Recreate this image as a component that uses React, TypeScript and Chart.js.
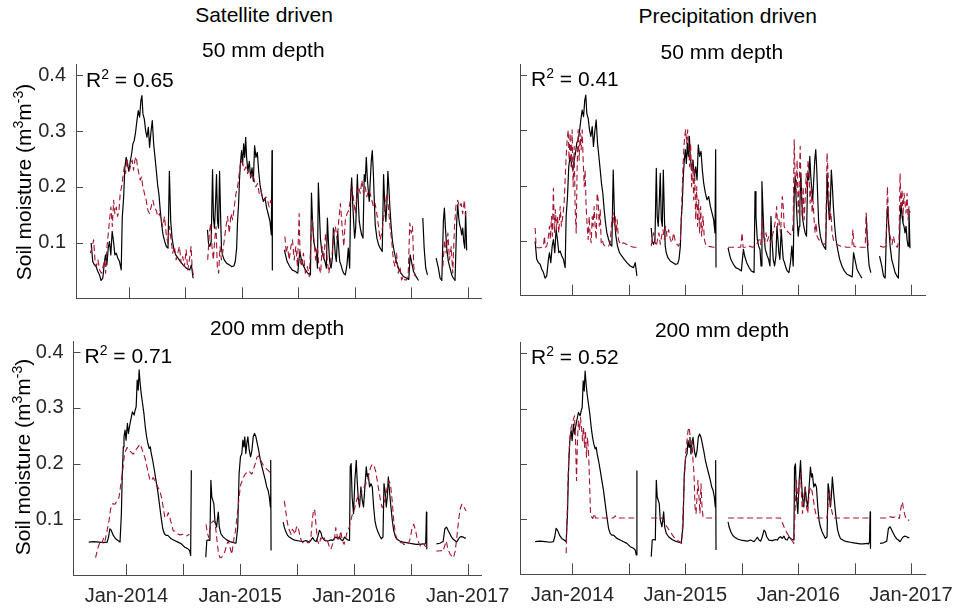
import React, { useEffect, useRef } from "react";
import { Chart, registerables } from "chart.js";

Chart.register(...registerables);

type Pt = [number, number | null];

// ---------- axes ----------
const X_MIN = 2013.535;
const X_MAX = 2017.124;
const Y_MIN = 0;
const Y_MAX = 0.42;
const X_TICKS = [2014, 2014.5, 2015, 2015.5, 2016, 2016.5, 2017];
const X_TICK_LABELS = ["Jan-2014", "", "Jan-2015", "", "Jan-2016", "", "Jan-2017"];
const Y_TICKS = [0.1, 0.2, 0.3, 0.4];
const Y_TICK_LABELS = ["0.1", "0.2", "0.3", "0.4"];

const COLUMN_TITLES = ["Satellite driven", "Precipitation driven"];
const DEPTH_TITLES = ["50 mm depth", "200 mm depth"];
const R2_VALUES = ["0.65", "0.41", "0.71", "0.52"];

// ---------- observed soil moisture, 50 mm (black) ----------
const OBS_50: Pt[] = [
  [2013.669,0.099],[2013.683,0.066],[2013.698,0.060],[2013.713,0.057],[2013.728,0.048],[2013.743,0.042],[2013.757,0.032],[2013.772,0.036],[2013.787,0.066],[2013.796,0.078],[2013.808,0.060],[2013.820,0.090],[2013.831,0.102],[2013.843,0.078],[2013.855,0.120],[2013.867,0.102],[2013.879,0.078],[2013.891,0.081],[2013.905,0.072],[2013.920,0.066],[2013.935,0.051],[2013.944,0.144],[2013.956,0.180],[2013.967,0.234],[2013.979,0.253],[2013.991,0.240],[2014.003,0.228],[2014.015,0.246],[2014.027,0.259],[2014.038,0.277],[2014.050,0.283],[2014.062,0.298],[2014.074,0.319],[2014.086,0.337],[2014.098,0.325],[2014.109,0.355],[2014.118,0.364],[2014.127,0.331],[2014.139,0.322],[2014.151,0.301],[2014.163,0.289],[2014.175,0.307],[2014.186,0.271],[2014.198,0.298],[2014.210,0.319],[2014.222,0.277],[2014.234,0.253],[2014.246,0.228],[2014.257,0.204],[2014.269,0.186],[2014.281,0.156],[2014.293,0.132],[2014.305,0.114],[2014.320,0.102],[2014.334,0.093],[2014.349,0.090],[2014.361,0.228],[2014.373,0.138],[2014.385,0.108],[2014.399,0.090],[2014.417,0.078],[2014.438,0.072],[2014.459,0.066],[2014.482,0.060],[2014.512,0.054],[2014.541,0.051],[2014.556,0.060],[2014.571,0.036],
  [2014.63,null],
  [2014.698,0.123],[2014.707,0.099],[2014.719,0.093],[2014.731,0.102],[2014.743,0.231],[2014.751,0.144],[2014.760,0.126],[2014.769,0.168],[2014.778,0.222],[2014.787,0.138],[2014.796,0.126],[2014.805,0.228],[2014.814,0.150],[2014.822,0.090],[2014.831,0.078],[2014.846,0.069],[2014.867,0.063],[2014.891,0.060],[2014.911,0.057],[2014.932,0.058],[2014.944,0.066],[2014.956,0.090],[2014.964,0.138],[2014.973,0.168],[2014.982,0.216],[2014.991,0.246],[2015.000,0.265],[2015.009,0.240],[2015.018,0.277],[2015.027,0.253],[2015.036,0.289],[2015.044,0.253],[2015.056,0.228],[2015.068,0.246],[2015.080,0.216],[2015.092,0.234],[2015.104,0.210],[2015.115,0.274],[2015.127,0.253],[2015.139,0.262],[2015.151,0.228],[2015.163,0.204],[2015.178,0.186],[2015.192,0.174],[2015.207,0.180],[2015.222,0.162],[2015.237,0.150],[2015.251,0.138],[2015.263,0.114],[2015.269,0.265],[2015.272,0.051],
  [2015.33,null],
  [2015.379,0.087],[2015.388,0.078],[2015.403,0.066],[2015.426,0.057],[2015.447,0.051],[2015.476,0.048],[2015.497,0.045],[2015.506,0.066],[2015.515,0.084],[2015.526,0.072],[2015.544,0.060],[2015.565,0.051],[2015.585,0.045],[2015.609,0.042],[2015.618,0.189],[2015.626,0.144],[2015.638,0.102],[2015.650,0.090],[2015.662,0.084],[2015.671,0.054],[2015.679,0.207],[2015.688,0.156],[2015.697,0.108],[2015.709,0.084],[2015.718,0.078],[2015.726,0.072],[2015.738,0.066],[2015.750,0.054],[2015.759,0.144],[2015.768,0.102],[2015.779,0.066],[2015.791,0.054],[2015.803,0.072],[2015.812,0.126],[2015.821,0.102],[2015.829,0.078],[2015.838,0.066],[2015.850,0.120],[2015.859,0.090],[2015.868,0.066],[2015.879,0.060],[2015.891,0.051],[2015.903,0.045],[2015.918,0.042],[2015.932,0.060],[2015.944,0.090],[2015.956,0.054],[2015.965,0.186],[2015.974,0.216],[2015.982,0.174],[2015.991,0.138],[2016.000,0.108],[2016.009,0.126],[2016.015,0.162],[2016.024,0.222],[2016.032,0.174],[2016.041,0.138],[2016.050,0.126],[2016.062,0.114],[2016.074,0.108],[2016.085,0.222],[2016.094,0.210],[2016.103,0.253],[2016.112,0.216],[2016.121,0.192],[2016.129,0.174],[2016.138,0.210],[2016.147,0.246],[2016.156,0.265],[2016.165,0.228],[2016.174,0.174],[2016.182,0.132],[2016.197,0.108],[2016.212,0.096],[2016.226,0.090],[2016.244,0.084],[2016.256,0.222],[2016.265,0.174],[2016.276,0.138],[2016.285,0.168],[2016.294,0.228],[2016.303,0.198],[2016.312,0.162],[2016.324,0.126],[2016.335,0.102],[2016.350,0.084],[2016.368,0.066],[2016.388,0.054],[2016.409,0.045],[2016.432,0.039],[2016.462,0.036],[2016.479,0.034],[2016.491,0.078],[2016.503,0.066],[2016.521,0.048],[2016.544,0.039],[2016.565,0.032],
  [2016.585,null],
  [2016.603,0.144],[2016.615,0.090],[2016.629,0.054],[2016.644,0.042],
  [2016.68,null],
  [2016.721,0.072],[2016.741,0.054],[2016.756,0.036],[2016.771,0.032],[2016.785,0.138],[2016.794,0.162],[2016.803,0.126],[2016.815,0.090],[2016.829,0.066],[2016.844,0.054],[2016.859,0.042],[2016.874,0.036],[2016.888,0.032],[2016.903,0.138],[2016.912,0.168],[2016.921,0.144],[2016.929,0.132],[2016.938,0.126],[2016.947,0.114],[2016.956,0.126],[2016.965,0.102],[2016.974,0.090],[2016.982,0.156],[2016.991,0.086],
];

// ---------- satellite-driven model, 50 mm (red dashed) ----------
const SAT_50: Pt[] = [
  [2013.662,0.081],[2013.679,0.093],[2013.691,0.105],[2013.703,0.069],[2013.715,0.057],[2013.729,0.069],[2013.744,0.051],[2013.759,0.045],[2013.774,0.057],[2013.788,0.069],[2013.797,0.045],[2013.809,0.093],[2013.821,0.117],[2013.832,0.141],[2013.844,0.164],[2013.856,0.129],[2013.868,0.176],[2013.879,0.152],[2013.891,0.164],[2013.903,0.147],[2013.915,0.158],[2013.926,0.188],[2013.938,0.200],[2013.950,0.218],[2013.962,0.236],[2013.974,0.224],[2013.985,0.251],[2013.997,0.236],[2014.009,0.230],[2014.021,0.242],[2014.032,0.248],[2014.044,0.230],[2014.056,0.248],[2014.068,0.254],[2014.079,0.236],[2014.091,0.224],[2014.103,0.212],[2014.115,0.218],[2014.126,0.200],[2014.141,0.188],[2014.156,0.176],[2014.171,0.158],[2014.185,0.152],[2014.200,0.164],[2014.215,0.176],[2014.229,0.164],[2014.244,0.158],[2014.259,0.147],[2014.274,0.152],[2014.288,0.141],[2014.303,0.129],[2014.318,0.147],[2014.332,0.117],[2014.347,0.099],[2014.362,0.129],[2014.376,0.105],[2014.391,0.081],[2014.406,0.093],[2014.421,0.069],[2014.435,0.081],[2014.450,0.093],[2014.465,0.063],[2014.479,0.075],[2014.494,0.057],[2014.509,0.087],[2014.524,0.051],[2014.538,0.069],[2014.553,0.093],[2014.562,0.057],[2014.574,0.039],
  [2014.63,null],
  [2014.700,0.069],[2014.715,0.117],[2014.726,0.135],[2014.738,0.093],[2014.750,0.069],[2014.762,0.105],[2014.774,0.129],[2014.785,0.057],[2014.797,0.045],[2014.809,0.093],[2014.821,0.069],[2014.832,0.081],[2014.847,0.105],[2014.862,0.129],[2014.876,0.147],[2014.891,0.117],[2014.906,0.152],[2014.921,0.141],[2014.935,0.164],[2014.950,0.188],[2014.965,0.200],[2014.979,0.224],[2014.994,0.248],[2015.009,0.242],[2015.024,0.230],[2015.038,0.236],[2015.053,0.224],[2015.068,0.230],[2015.082,0.218],[2015.097,0.224],[2015.112,0.212],[2015.126,0.200],[2015.141,0.206],[2015.156,0.188],[2015.171,0.194],[2015.185,0.182],[2015.200,0.176],[2015.215,0.182],[2015.229,0.176],[2015.244,0.164],[2015.259,0.176],[2015.268,0.164],
  [2015.33,null],
  [2015.383,0.111],[2015.395,0.081],[2015.406,0.093],[2015.421,0.069],[2015.436,0.093],[2015.450,0.105],[2015.465,0.069],[2015.480,0.093],[2015.494,0.057],[2015.509,0.152],[2015.518,0.069],[2015.529,0.057],[2015.547,0.081],[2015.564,0.045],[2015.582,0.057],[2015.599,0.039],[2015.611,0.093],[2015.626,0.141],[2015.640,0.105],[2015.655,0.069],[2015.670,0.093],[2015.684,0.057],[2015.699,0.045],[2015.713,0.093],[2015.728,0.069],[2015.743,0.117],[2015.757,0.069],[2015.772,0.045],[2015.787,0.069],[2015.801,0.081],[2015.816,0.117],[2015.830,0.129],[2015.845,0.105],[2015.860,0.141],[2015.874,0.170],[2015.889,0.129],[2015.904,0.093],[2015.918,0.141],[2015.933,0.152],[2015.947,0.158],[2015.962,0.176],[2015.977,0.200],[2015.991,0.176],[2016.006,0.152],[2016.020,0.188],[2016.035,0.200],[2016.050,0.188],[2016.064,0.212],[2016.079,0.188],[2016.094,0.200],[2016.108,0.182],[2016.123,0.194],[2016.137,0.188],[2016.152,0.176],[2016.167,0.164],[2016.181,0.170],[2016.196,0.152],[2016.211,0.129],[2016.225,0.105],[2016.240,0.117],[2016.254,0.141],[2016.269,0.164],[2016.284,0.188],[2016.298,0.164],[2016.313,0.129],[2016.327,0.105],[2016.342,0.069],[2016.357,0.057],[2016.371,0.081],[2016.386,0.045],[2016.401,0.057],[2016.415,0.033],[2016.430,0.039],[2016.444,0.033],[2016.459,0.033],[2016.474,0.045],[2016.488,0.135],[2016.500,0.117],[2016.512,0.129],[2016.523,0.057],[2016.535,0.039],
  [2016.66,null],
  [2016.781,0.057],[2016.795,0.105],[2016.810,0.081],[2016.825,0.117],[2016.839,0.069],[2016.854,0.093],[2016.868,0.045],[2016.883,0.129],[2016.898,0.170],[2016.912,0.176],[2016.927,0.164],[2016.942,0.170],[2016.956,0.152],[2016.971,0.176],[2016.980,0.147],
];

// ---------- precipitation-driven model, 50 mm (red dashed) ----------
const PRE_50: Pt[] = [
  [2013.669,0.123],[2013.678,0.090],[2013.689,0.087],[2013.713,0.087],[2013.728,0.088],[2013.743,0.090],[2013.751,0.108],[2013.760,0.088],[2013.772,0.090],[2013.784,0.102],[2013.796,0.126],[2013.805,0.102],[2013.814,0.144],[2013.822,0.108],[2013.831,0.195],[2013.840,0.114],[2013.849,0.156],[2013.858,0.120],[2013.867,0.144],[2013.879,0.114],[2013.891,0.162],[2013.902,0.126],[2013.914,0.144],[2013.926,0.168],[2013.935,0.210],[2013.944,0.253],[2013.953,0.283],[2013.962,0.301],[2013.970,0.246],[2013.979,0.295],[2013.988,0.234],[2013.997,0.301],[2014.006,0.198],[2014.015,0.271],[2014.024,0.156],[2014.033,0.114],[2014.041,0.228],[2014.050,0.301],[2014.059,0.246],[2014.068,0.295],[2014.077,0.265],[2014.086,0.301],[2014.095,0.246],[2014.104,0.198],[2014.112,0.228],[2014.121,0.162],[2014.130,0.126],[2014.139,0.102],[2014.148,0.144],[2014.157,0.108],[2014.166,0.096],[2014.175,0.144],[2014.183,0.126],[2014.192,0.162],[2014.201,0.126],[2014.210,0.102],[2014.219,0.186],[2014.228,0.174],[2014.237,0.126],[2014.246,0.156],[2014.254,0.096],[2014.263,0.102],[2014.275,0.093],[2014.290,0.090],[2014.305,0.091],[2014.320,0.090],[2014.334,0.096],[2014.349,0.138],[2014.361,0.150],[2014.370,0.126],[2014.379,0.144],[2014.388,0.114],[2014.396,0.138],[2014.408,0.102],[2014.423,0.093],[2014.453,0.096],[2014.482,0.093],[2014.512,0.090],[2014.541,0.088],[2014.571,0.088],
  [2014.63,null],
  [2014.698,0.090],[2014.707,0.102],[2014.719,0.114],[2014.731,0.099],[2014.743,0.090],[2014.754,0.102],[2014.766,0.114],[2014.778,0.093],[2014.790,0.108],[2014.802,0.120],[2014.814,0.102],[2014.825,0.126],[2014.837,0.108],[2014.852,0.120],[2014.867,0.102],[2014.882,0.096],[2014.896,0.114],[2014.911,0.099],[2014.926,0.093],[2014.941,0.090],[2014.956,0.102],[2014.967,0.156],[2014.976,0.216],[2014.985,0.259],[2014.994,0.289],[2015.003,0.301],[2015.012,0.277],[2015.021,0.301],[2015.030,0.271],[2015.038,0.234],[2015.047,0.277],[2015.056,0.198],[2015.065,0.246],[2015.074,0.174],[2015.083,0.228],[2015.092,0.138],[2015.101,0.198],[2015.109,0.126],[2015.118,0.174],[2015.127,0.114],[2015.136,0.162],[2015.145,0.108],[2015.157,0.144],[2015.169,0.102],[2015.180,0.093],[2015.192,0.090],[2015.222,0.089],[2015.251,0.088],[2015.275,0.088],
  [2015.33,null],
  [2015.379,0.088],[2015.432,0.088],[2015.491,0.088],[2015.503,0.114],[2015.512,0.088],[2015.535,0.088],[2015.565,0.090],[2015.594,0.088],[2015.624,0.090],[2015.653,0.102],[2015.668,0.093],[2015.682,0.138],[2015.691,0.102],[2015.703,0.096],[2015.715,0.114],[2015.726,0.099],[2015.741,0.108],[2015.756,0.096],[2015.771,0.108],[2015.785,0.120],[2015.800,0.138],[2015.809,0.162],[2015.818,0.126],[2015.829,0.138],[2015.844,0.114],[2015.859,0.180],[2015.868,0.162],[2015.876,0.126],[2015.888,0.120],[2015.903,0.117],[2015.918,0.114],[2015.932,0.111],[2015.947,0.114],[2015.956,0.132],[2015.965,0.283],[2015.974,0.210],[2015.982,0.186],[2015.991,0.246],[2016.000,0.150],[2016.009,0.198],[2016.018,0.271],[2016.026,0.186],[2016.035,0.144],[2016.044,0.198],[2016.053,0.138],[2016.062,0.174],[2016.071,0.222],[2016.079,0.186],[2016.088,0.246],[2016.097,0.216],[2016.106,0.168],[2016.115,0.198],[2016.124,0.150],[2016.132,0.174],[2016.141,0.138],[2016.150,0.114],[2016.159,0.132],[2016.168,0.108],[2016.182,0.102],[2016.197,0.099],[2016.212,0.096],[2016.226,0.093],[2016.244,0.096],[2016.256,0.259],[2016.265,0.222],[2016.274,0.174],[2016.282,0.138],[2016.291,0.150],[2016.300,0.114],[2016.315,0.099],[2016.344,0.093],[2016.374,0.090],[2016.432,0.088],[2016.476,0.088],[2016.485,0.120],[2016.494,0.090],[2016.521,0.088],[2016.565,0.088],[2016.594,0.088],[2016.603,0.150],[2016.612,0.114],[2016.621,0.090],[2016.638,0.088],
  [2016.68,null],
  [2016.726,0.090],[2016.756,0.088],[2016.779,0.090],[2016.791,0.198],[2016.800,0.144],[2016.809,0.114],[2016.821,0.102],[2016.832,0.093],[2016.844,0.108],[2016.856,0.096],[2016.868,0.090],[2016.879,0.088],[2016.894,0.102],[2016.903,0.222],[2016.912,0.156],[2016.921,0.192],[2016.929,0.144],[2016.938,0.186],[2016.947,0.168],[2016.956,0.150],[2016.965,0.186],[2016.974,0.138],[2016.982,0.162],[2016.991,0.150],
];

// ---------- observed soil moisture, 200 mm (black) ----------
const OBS_200: Pt[] = [
  [2013.669,0.059],[2013.713,0.060],[2013.757,0.059],[2013.802,0.058],[2013.831,0.059],[2013.843,0.068],[2013.855,0.083],[2013.867,0.080],[2013.885,0.071],[2013.905,0.065],[2013.926,0.062],[2013.944,0.059],[2013.956,0.110],[2013.964,0.182],[2013.973,0.230],[2013.979,0.248],[2013.988,0.260],[2013.997,0.242],[2014.009,0.272],[2014.018,0.254],[2014.027,0.266],[2014.038,0.278],[2014.053,0.293],[2014.068,0.287],[2014.077,0.296],[2014.086,0.302],[2014.095,0.350],[2014.104,0.332],[2014.112,0.368],[2014.121,0.344],[2014.130,0.326],[2014.142,0.308],[2014.154,0.290],[2014.166,0.266],[2014.178,0.248],[2014.189,0.236],[2014.201,0.227],[2014.210,0.230],[2014.219,0.218],[2014.231,0.206],[2014.246,0.188],[2014.260,0.170],[2014.275,0.152],[2014.290,0.128],[2014.305,0.104],[2014.320,0.083],[2014.334,0.074],[2014.349,0.071],[2014.364,0.071],[2014.379,0.068],[2014.393,0.065],[2014.423,0.062],[2014.453,0.059],[2014.482,0.056],[2014.512,0.050],[2014.541,0.047],[2014.556,0.044],[2014.565,0.035],[2014.571,0.188],
  [2014.63,null],
  [2014.698,0.032],[2014.707,0.062],[2014.719,0.063],[2014.734,0.062],[2014.743,0.170],[2014.751,0.140],[2014.760,0.134],[2014.769,0.128],[2014.778,0.098],[2014.793,0.086],[2014.808,0.113],[2014.817,0.086],[2014.831,0.074],[2014.852,0.068],[2014.882,0.063],[2014.911,0.060],[2014.941,0.058],[2014.964,0.057],[2014.979,0.086],[2014.991,0.182],[2015.003,0.212],[2015.015,0.218],[2015.024,0.242],[2015.033,0.230],[2015.041,0.248],[2015.050,0.218],[2015.059,0.236],[2015.068,0.248],[2015.080,0.224],[2015.092,0.212],[2015.104,0.224],[2015.115,0.248],[2015.127,0.254],[2015.139,0.248],[2015.151,0.236],[2015.163,0.224],[2015.178,0.206],[2015.192,0.194],[2015.207,0.182],[2015.222,0.170],[2015.234,0.158],[2015.246,0.152],[2015.257,0.140],[2015.266,0.122],[2015.269,0.206],[2015.272,0.044],
  [2015.33,null],
  [2015.379,0.095],[2015.388,0.086],[2015.403,0.077],[2015.418,0.071],[2015.432,0.068],[2015.462,0.064],[2015.491,0.062],[2015.521,0.061],[2015.550,0.060],[2015.579,0.062],[2015.609,0.059],[2015.624,0.063],[2015.638,0.067],[2015.653,0.062],[2015.668,0.060],[2015.682,0.068],[2015.697,0.080],[2015.709,0.077],[2015.721,0.068],[2015.741,0.062],[2015.771,0.061],[2015.800,0.063],[2015.815,0.062],[2015.829,0.066],[2015.844,0.068],[2015.859,0.065],[2015.874,0.069],[2015.888,0.063],[2015.903,0.062],[2015.918,0.068],[2015.932,0.065],[2015.947,0.063],[2015.962,0.062],[2015.968,0.194],[2015.976,0.200],[2015.985,0.140],[2015.997,0.110],[2016.009,0.170],[2016.021,0.206],[2016.029,0.170],[2016.038,0.140],[2016.050,0.122],[2016.062,0.158],[2016.074,0.134],[2016.085,0.122],[2016.097,0.158],[2016.109,0.194],[2016.118,0.176],[2016.126,0.182],[2016.138,0.158],[2016.150,0.164],[2016.162,0.158],[2016.174,0.122],[2016.185,0.098],[2016.197,0.086],[2016.212,0.077],[2016.226,0.071],[2016.241,0.065],[2016.256,0.068],[2016.265,0.164],[2016.274,0.152],[2016.285,0.122],[2016.294,0.140],[2016.303,0.176],[2016.315,0.146],[2016.326,0.122],[2016.338,0.098],[2016.350,0.080],[2016.362,0.071],[2016.374,0.065],[2016.403,0.061],[2016.432,0.059],[2016.462,0.058],[2016.491,0.057],[2016.521,0.056],[2016.550,0.055],[2016.579,0.055],[2016.609,0.056],[2016.624,0.055],[2016.632,0.059],[2016.638,0.113],[2016.641,0.047],
  [2016.68,null],
  [2016.726,0.056],[2016.756,0.057],[2016.785,0.060],[2016.800,0.083],[2016.815,0.086],[2016.829,0.080],[2016.844,0.074],[2016.859,0.068],[2016.874,0.064],[2016.888,0.062],[2016.903,0.059],[2016.918,0.064],[2016.932,0.068],[2016.947,0.069],[2016.962,0.068],[2016.976,0.066],[2016.985,0.067],
];

// ---------- satellite-driven model, 200 mm (red dashed) ----------
const SAT_200: Pt[] = [
  [2013.729,0.031],[2013.750,0.049],[2013.771,0.061],[2013.788,0.058],[2013.800,0.067],[2013.812,0.061],[2013.824,0.073],[2013.835,0.085],[2013.847,0.097],[2013.859,0.115],[2013.871,0.127],[2013.882,0.128],[2013.900,0.127],[2013.918,0.133],[2013.935,0.139],[2013.947,0.157],[2013.959,0.175],[2013.971,0.193],[2013.982,0.214],[2013.994,0.223],[2014.006,0.229],[2014.018,0.226],[2014.029,0.223],[2014.044,0.220],[2014.059,0.217],[2014.074,0.220],[2014.088,0.226],[2014.103,0.230],[2014.118,0.235],[2014.132,0.229],[2014.147,0.220],[2014.162,0.211],[2014.176,0.199],[2014.191,0.184],[2014.206,0.172],[2014.221,0.169],[2014.235,0.175],[2014.250,0.169],[2014.265,0.163],[2014.279,0.157],[2014.294,0.151],[2014.309,0.139],[2014.324,0.121],[2014.338,0.103],[2014.353,0.103],[2014.368,0.112],[2014.382,0.103],[2014.397,0.091],[2014.412,0.079],[2014.426,0.079],[2014.441,0.076],[2014.456,0.073],[2014.471,0.072],[2014.500,0.073],[2014.529,0.070],[2014.553,0.073],
  [2014.63,null],
  [2014.700,0.091],[2014.712,0.076],[2014.724,0.067],[2014.735,0.085],[2014.750,0.094],[2014.765,0.097],[2014.779,0.094],[2014.788,0.079],[2014.800,0.055],[2014.812,0.037],[2014.824,0.031],[2014.838,0.032],[2014.853,0.037],[2014.868,0.043],[2014.882,0.055],[2014.897,0.061],[2014.912,0.049],[2014.926,0.037],[2014.935,0.049],[2014.947,0.067],[2014.959,0.079],[2014.971,0.103],[2014.982,0.121],[2014.994,0.145],[2015.006,0.163],[2015.018,0.169],[2015.029,0.175],[2015.044,0.181],[2015.059,0.184],[2015.074,0.187],[2015.088,0.184],[2015.103,0.181],[2015.118,0.190],[2015.132,0.199],[2015.147,0.211],[2015.162,0.214],[2015.176,0.208],[2015.191,0.202],[2015.206,0.196],[2015.221,0.193],[2015.235,0.190],[2015.250,0.187],[2015.265,0.184],
  [2015.33,null],
  [2015.389,0.133],[2015.401,0.115],[2015.413,0.097],[2015.424,0.085],[2015.436,0.079],[2015.448,0.073],[2015.459,0.082],[2015.471,0.079],[2015.483,0.073],[2015.494,0.085],[2015.506,0.088],[2015.517,0.079],[2015.529,0.067],[2015.541,0.061],[2015.552,0.058],[2015.564,0.060],[2015.579,0.061],[2015.593,0.058],[2015.608,0.058],[2015.622,0.067],[2015.634,0.097],[2015.646,0.118],[2015.657,0.115],[2015.669,0.085],[2015.681,0.061],[2015.695,0.055],[2015.710,0.067],[2015.724,0.061],[2015.739,0.067],[2015.754,0.058],[2015.768,0.061],[2015.783,0.052],[2015.797,0.046],[2015.812,0.055],[2015.827,0.061],[2015.841,0.085],[2015.856,0.067],[2015.870,0.061],[2015.885,0.079],[2015.899,0.061],[2015.914,0.055],[2015.929,0.067],[2015.943,0.079],[2015.958,0.085],[2015.972,0.097],[2015.987,0.109],[2016.001,0.115],[2016.016,0.127],[2016.031,0.139],[2016.045,0.127],[2016.060,0.145],[2016.074,0.151],[2016.089,0.157],[2016.103,0.163],[2016.118,0.169],[2016.133,0.181],[2016.147,0.193],[2016.162,0.199],[2016.176,0.196],[2016.191,0.187],[2016.206,0.169],[2016.220,0.151],[2016.235,0.133],[2016.249,0.121],[2016.264,0.127],[2016.278,0.139],[2016.293,0.157],[2016.308,0.169],[2016.322,0.163],[2016.337,0.133],[2016.351,0.097],[2016.366,0.073],[2016.380,0.064],[2016.395,0.061],[2016.410,0.058],[2016.424,0.058],[2016.439,0.055],[2016.453,0.055],[2016.468,0.054],[2016.483,0.058],[2016.497,0.067],[2016.512,0.085],[2016.526,0.091],[2016.541,0.082],[2016.555,0.067],[2016.570,0.058],[2016.585,0.052],[2016.599,0.055],[2016.614,0.055],[2016.628,0.052],[2016.643,0.049],
  [2016.68,null],
  [2016.724,0.043],[2016.745,0.043],[2016.765,0.044],[2016.783,0.042],[2016.794,0.049],[2016.812,0.061],[2016.824,0.049],[2016.835,0.043],[2016.847,0.037],[2016.862,0.034],[2016.876,0.031],[2016.891,0.043],[2016.905,0.067],[2016.920,0.097],[2016.934,0.118],[2016.949,0.127],[2016.964,0.124],[2016.978,0.118],[2016.987,0.115],
];

// ---------- precipitation-driven model, 200 mm (red dashed) ----------
const PRE_200: Pt[] = [
  [2013.944,0.038],[2013.950,0.086],[2013.959,0.158],[2013.967,0.212],[2013.979,0.248],[2013.988,0.266],[2013.997,0.272],[2014.009,0.281],[2014.018,0.287],[2014.027,0.242],[2014.036,0.170],[2014.044,0.242],[2014.053,0.278],[2014.062,0.260],[2014.071,0.284],[2014.080,0.266],[2014.089,0.242],[2014.098,0.266],[2014.107,0.230],[2014.115,0.260],[2014.124,0.212],[2014.133,0.248],[2014.142,0.224],[2014.151,0.170],[2014.160,0.110],[2014.169,0.104],[2014.180,0.101],[2014.192,0.110],[2014.204,0.102],[2014.246,0.102],[2014.305,0.102],[2014.364,0.102],[2014.379,0.106],[2014.393,0.102],[2014.482,0.102],[2014.571,0.102],
  [2014.63,null],
  [2014.698,0.102],[2014.793,0.102],[2014.808,0.095],[2014.837,0.086],[2014.867,0.077],[2014.896,0.068],[2014.926,0.062],[2014.956,0.058],[2014.967,0.056],[2014.979,0.104],[2014.991,0.170],[2015.003,0.218],[2015.015,0.242],[2015.024,0.260],[2015.033,0.266],[2015.041,0.254],[2015.050,0.224],[2015.059,0.242],[2015.068,0.206],[2015.077,0.182],[2015.086,0.122],[2015.095,0.110],[2015.104,0.140],[2015.112,0.170],[2015.121,0.140],[2015.130,0.110],[2015.139,0.164],[2015.148,0.122],[2015.157,0.104],[2015.169,0.102],[2015.275,0.102],
  [2015.33,null],
  [2015.379,0.102],[2015.844,0.102],[2015.874,0.086],[2015.903,0.074],[2015.932,0.065],[2015.962,0.056],[2015.974,0.122],[2015.985,0.170],[2015.997,0.134],[2016.009,0.158],[2016.021,0.182],[2016.029,0.146],[2016.038,0.110],[2016.050,0.140],[2016.062,0.158],[2016.074,0.122],[2016.085,0.110],[2016.097,0.146],[2016.109,0.158],[2016.121,0.152],[2016.132,0.140],[2016.144,0.122],[2016.156,0.110],[2016.168,0.102],[2016.256,0.102],[2016.268,0.134],[2016.279,0.152],[2016.291,0.122],[2016.303,0.110],[2016.315,0.102],[2016.638,0.102],
  [2016.68,null],
  [2016.726,0.102],[2016.785,0.102],[2016.815,0.104],[2016.844,0.103],[2016.874,0.105],[2016.897,0.101],[2016.912,0.122],[2016.924,0.131],[2016.935,0.116],[2016.950,0.104],[2016.968,0.098],[2016.985,0.098],
];

// ---------- styling / layout ----------
const FONT = '"Liberation Sans", Arial, Helvetica, sans-serif';
const RED = "#A2142F";
const AXIS = "#4a4a4a";
const TICK_TEXT = "#262626";

type PanelCfg = {
  box: { left: number; top: number; width: number; height: number };
  plot: { l: number; r: number; t: number; b: number };
  obs: Pt[];
  model: Pt[];
  yLabels: boolean;
  xLabels: boolean;
};

const PANELS: PanelCfg[] = [
  { box: { left: 0, top: 55, width: 490, height: 250 }, plot: { l: 76, r: 481.7, t: 64.3, b: 298.3 }, obs: OBS_50, model: SAT_50, yLabels: true, xLabels: false },
  { box: { left: 490, top: 55, width: 460, height: 250 }, plot: { l: 520, r: 925, t: 64.3, b: 295.7 }, obs: OBS_50, model: PRE_50, yLabels: false, xLabels: false },
  { box: { left: 0, top: 330, width: 510, height: 279 }, plot: { l: 73.5, r: 481.7, t: 341, b: 575 }, obs: OBS_200, model: SAT_200, yLabels: true, xLabels: true },
  { box: { left: 490, top: 330, width: 472, height: 279 }, plot: { l: 520, r: 925, t: 342.3, b: 574.3 }, obs: OBS_200, model: PRE_200, yLabels: false, xLabels: true },
];

const inwardTicks = {
  id: "inwardTicks",
  afterDatasetsDraw(chart: any) {
    const { ctx, chartArea: a, scales } = chart;
    const x = scales.x;
    const y = scales.y;
    ctx.save();
    ctx.strokeStyle = AXIS;
    ctx.lineWidth = 1;
    ctx.beginPath();
    for (const t of x.ticks) {
      const px = Math.round(x.getPixelForValue(t.value)) + 0.5;
      ctx.moveTo(px, a.bottom);
      ctx.lineTo(px, a.bottom - 11);
    }
    for (const t of y.ticks) {
      const py = Math.round(y.getPixelForValue(t.value)) + 0.5;
      ctx.moveTo(a.left, py);
      ctx.lineTo(a.left + 7, py);
    }
    ctx.stroke();
    ctx.restore();
  },
};

const toXY = (pts: Pt[]) => pts.map(([x, y]) => ({ x, y }));

function Panel({ cfg }: { cfg: PanelCfg }) {
  const ref = useRef<HTMLCanvasElement>(null);
  useEffect(() => {
    const canvas = ref.current!;
    const { box, plot } = cfg;
    const chart = new Chart(canvas, {
      type: "line",
      data: {
        datasets: [
          {
            data: toXY(cfg.model) as any,
            borderColor: RED,
            borderWidth: 1.1,
            borderDash: [6, 3.5],
            borderJoinStyle: "round",
            pointRadius: 0,
            tension: 0,
            spanGaps: false,
            order: 0,
          },
          {
            data: toXY(cfg.obs) as any,
            borderColor: "#000000",
            borderWidth: 1.2,
            borderJoinStyle: "round",
            pointRadius: 0,
            tension: 0,
            spanGaps: false,
            order: 1,
          },
        ],
      },
      options: {
        responsive: false,
        maintainAspectRatio: false,
        animation: false,
        devicePixelRatio: 1,
        events: [],
        layout: {
          padding: { left: 0, top: plot.t - box.top, right: box.left + box.width - plot.r, bottom: 0 },
        },
        plugins: { legend: { display: false }, tooltip: { enabled: false }, title: { display: false } },
        scales: {
          x: {
            type: "linear",
            min: X_MIN,
            max: X_MAX,
            grid: { display: false, drawTicks: false },
            border: { display: true, color: AXIS, width: 1 },
            ticks: {
              display: cfg.xLabels,
              autoSkip: false,
              maxRotation: 0,
              minRotation: 0,
              padding: 9,
              color: TICK_TEXT,
              font: { family: FONT, size: 20 },
              callback: (_v: any, i: number) => X_TICK_LABELS[i] ?? "",
            },
            afterBuildTicks: (s: any) => {
              s.ticks = X_TICKS.map((v) => ({ value: v }));
            },
            afterFit: (s: any) => {
              s.height = box.top + box.height - plot.b;
              s.paddingLeft = 0;
              s.paddingRight = 0;
            },
          },
          y: {
            type: "linear",
            min: Y_MIN,
            max: Y_MAX,
            grid: { display: false, drawTicks: false },
            border: { display: true, color: AXIS, width: 1 },
            ticks: {
              display: cfg.yLabels,
              padding: 10,
              color: TICK_TEXT,
              font: { family: FONT, size: 20 },
              callback: (_v: any, i: number) => Y_TICK_LABELS[i] ?? "",
            },
            afterBuildTicks: (s: any) => {
              s.ticks = Y_TICKS.map((v) => ({ value: v }));
            },
            afterFit: (s: any) => {
              s.width = plot.l - box.left;
              s.paddingTop = 0;
              s.paddingBottom = 0;
            },
          },
        },
      } as any,
      plugins: [inwardTicks],
    });
    return () => chart.destroy();
  }, [cfg]);
  const { left, top, width, height } = cfg.box;
  return (
    <canvas
      ref={ref}
      width={width}
      height={height}
      style={{ position: "absolute", left, top, width, height }}
    />
  );
}

const SIZE = 21;
const BASE = 0.8465; // baseline offset (em) for line-height 1

function Text({ x, baseline, center = true, children }: { x: number; baseline: number; center?: boolean; children: any }) {
  return (
    <div
      style={{
        position: "absolute",
        left: x,
        top: baseline - BASE * SIZE,
        transform: center ? "translateX(-50%)" : undefined,
        fontFamily: FONT,
        fontSize: SIZE,
        lineHeight: 1,
        whiteSpace: "nowrap",
        color: "#000",
      }}
    >
      {children}
    </div>
  );
}

function Sup({ children }: { children: any }) {
  return (
    <span style={{ fontSize: 14, position: "relative", top: -8, lineHeight: 0 }}>{children}</span>
  );
}

function YTitle({ cx, cy }: { cx: number; cy: number }) {
  return (
    <div
      style={{
        position: "absolute",
        left: cx,
        top: cy,
        transform: "translate(-50%, -50%) rotate(-90deg)",
        fontFamily: FONT,
        fontSize: SIZE,
        lineHeight: 1,
        whiteSpace: "nowrap",
        color: "#000",
      }}
    >
      Soil moisture (m<Sup>3</Sup>m<Sup>-3</Sup>)
    </div>
  );
}

function R2({ x, baseline, value }: { x: number; baseline: number; value: string }) {
  return (
    <Text x={x} baseline={baseline} center={false}>
      R<Sup>2</Sup> = {value}
    </Text>
  );
}

export default function App() {
  return (
    <div
      style={{
        position: "absolute",
        left: 0,
        top: 0,
        width: 962,
        height: 609,
        background: "#ffffff",
        overflow: "hidden",
      }}
    >
      {PANELS.map((p, i) => (
        <Panel key={i} cfg={p} />
      ))}
      <Text x={264} baseline={21.7}>{COLUMN_TITLES[0]}</Text>
      <Text x={727.7} baseline={22.3}>{COLUMN_TITLES[1]}</Text>
      <Text x={263.3} baseline={56.8}>{DEPTH_TITLES[0]}</Text>
      <Text x={721.8} baseline={59}>{DEPTH_TITLES[0]}</Text>
      <Text x={277} baseline={334.8}>{DEPTH_TITLES[1]}</Text>
      <Text x={722} baseline={336.5}>{DEPTH_TITLES[1]}</Text>
      <R2 x={86} baseline={86.7} value={R2_VALUES[0]} />
      <R2 x={531} baseline={86} value={R2_VALUES[1]} />
      <R2 x={84.5} baseline={362.3} value={R2_VALUES[2]} />
      <R2 x={531} baseline={363.3} value={R2_VALUES[3]} />
      <YTitle cx={23.4} cy={181.7} />
      <YTitle cx={21.7} cy={456.7} />
    </div>
  );
}
